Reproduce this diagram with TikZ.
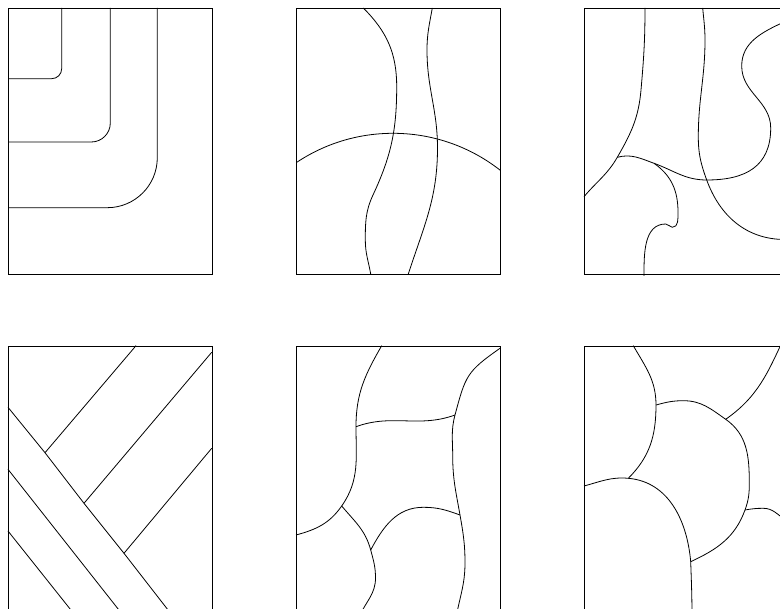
\documentclass[tikz,border=0pt]{standalone}

\begin{document}
\begin{tikzpicture}[
    x=1pt, y=1pt, yscale=-1,
    line width=0.8pt,
    panel/.style={draw, line width=0.8pt}
]

\useasboundingbox (0,0) rectangle (780,609);
\clip (0,0) rectangle (780,609);

% Panel 1: nested rounded corners
\draw[panel] (8,8) rectangle (212,274);
\draw[rounded corners=10] (61.7,8) |- (8,78.7);
\draw[rounded corners=19] (110.3,8) |- (8,142);
\draw[rounded corners=50] (157.3,8) |- (8,207.7);

% Panel 2: two wavy strands and an arc
\draw[panel] (296,8) rectangle (500,274);
\draw (363.3,8) to[out=45,in=-90] (396.7,86.7) to[out=90,in=-65] (373,195)
    to[out=115,in=-90] (365.3,240) to[out=90,in=-100] (370.7,274);
\draw (432.3,8) to[out=100,in=-90] (427,50) to[out=90,in=-90] (437.5,148)
    to[out=90,in=-72] (408.3,274);
\begin{scope}
    \clip (296,8) rectangle (500,274);
    \draw (393,307.3) circle[radius=174];
\end{scope}

% Panel 3: free curves
\draw[panel] (584,8) rectangle (788,274);
\coordinate (p3j) at (617.3,157.3);
\coordinate (p3s) at (654,163.3);
\coordinate (p3x) at (706.7,180);
\draw (645,8) to[out=90,in=-85] (641,90) to[out=95,in=-60] (p3j)
    to[out=120,in=-50] (584,196.7);
\draw (p3j) to[out=-15,in=-160] (p3s) to[out=20,in=180] (p3x)
    to[out=0,in=90,looseness=1.2] (770.7,128) to[out=-90,in=90] (741.7,66)
    to[out=-90,in=155] (784,22);
\draw (p3s) to[out=35,in=-90] (678,212) to[out=90,in=0] (672.3,227.3)
    to[out=185,in=0] (665.7,224) to[out=180,in=-90] (644,276);
\draw (702.7,8) to[out=85,in=-90] (705,40) to[out=90,in=-90] (698.3,136.7)
    to[out=90,in=-110] (p3x) to[out=70,in=180] (785,239.5);

% Panel 4: crossing straight strips
\draw[panel] (8,346) rectangle (212,612);
\coordinate (d1) at (45,452.7);
\coordinate (d2) at (84,503.3);
\coordinate (d3) at (124,553.3);
\draw (8,407.3) -- (d1) -- (d2) -- (d3) -- (169.6,612);
\draw (8,469.3) -- (120.5,612);
\draw (8,531) -- (72.5,612);
\draw (d1) -- (136,345.7);
\draw (d2) -- (211.7,352.3);
\draw (d3) -- (211.7,448.3);

% Panel 5: cell pattern
\draw[panel] (296,346) rectangle (500,612);
\coordinate (c1) at (356,426.7);
\coordinate (c2) at (455,415);
\coordinate (c3) at (341.7,506);
\coordinate (c4) at (370.7,550);
\coordinate (c5) at (460,515);
\draw (381.7,345.7) to[out=120,in=-90] (c1) to[out=90,in=-55] (c3)
    to[out=125,in=-15] (296,535);
\draw (500,348.3) to[out=145,in=-75,looseness=1.3] (c2) to[out=105,in=-90] (452.7,456)
    to[out=90,in=-100] (c5) to[out=80,in=-90] (465,563) to[out=90,in=-80] (456,618);
\draw (c1) to[out=-20,in=160] (c2);
\draw (c3) to[out=50,in=-105] (c4) to[out=75,in=-90] (375.5,578)
    to[out=90,in=-65] (360,615);
\draw (c4) to[out=-62,in=180] (423.3,507.3) to[out=0,in=-160] (c5);

% Panel 6: overlapping blobs
\draw[panel] (584,346) rectangle (788,612);
\coordinate (b1) at (656,405);
\coordinate (b2) at (628.3,478.3);
\coordinate (b3) at (725.7,419.3);
\coordinate (b4) at (745,510);
\coordinate (b5) at (690.7,561.7);
\draw (633.3,345.7) to[out=60,in=-90] (b1) to[out=90,in=-45] (b2);
\draw (584,486) to[out=-15,in=-175] (b2) to[out=5,in=-95] (b5)
    to[out=88,in=-90] (692,618);
\draw (b1) to[out=-15,in=180] (683.3,400.7) to[out=0,in=-145] (b3)
    to[out=35,in=-90] (749.3,483.3) to[out=90,in=-70] (b4) to[out=110,in=-25] (b5);
\draw (b3) to[out=-35,in=115] (784,338);
\draw (b4) to[out=-10,in=180] (763.3,508.3) to[out=0,in=-150] (786,520);

\end{tikzpicture}
\end{document}
